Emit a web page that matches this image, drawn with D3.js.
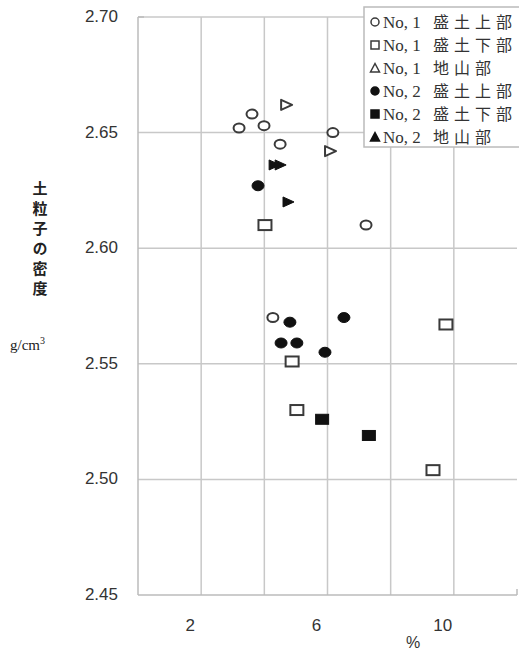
<!DOCTYPE html>
<html><head><meta charset="utf-8">
<script src="https://cdn.jsdelivr.net/npm/d3@7"></script>
<style>body{margin:0;background:#fff}svg{display:block}</style>
</head><body>
<script>
// ---- data ----
const seriesNames = ["No, 1|盛土上部","No, 1|盛土下部","No, 1|地山部","No, 2|盛土上部","No, 2|盛土下部","No, 2|地山部"];
const s1upper = [[3.61,2.658],[3.20,2.652],[3.99,2.653],[4.50,2.645],[6.17,2.650],[7.22,2.610],[4.27,2.570]];
const s1lower = [[4.02,2.610],[4.88,2.551],[5.03,2.530],[9.75,2.567],[9.34,2.504]];
const s1ground = [[4.69,2.662],[6.08,2.642]];
const s2upper = [[3.80,2.627],[4.81,2.568],[6.52,2.570],[4.53,2.559],[5.03,2.559],[5.92,2.555]];
const s2lower = [[5.83,2.526],[7.31,2.519]];
const s2ground = [[4.31,2.636],[4.50,2.636],[4.75,2.620]];
const xGrid = [2,4,6,8,10];
const xTickLabels = [2,6,10];
const yTicks = [2.45,2.50,2.55,2.60,2.65,2.70];
const yTickLabels = ["2.45","2.50","2.55","2.60","2.65","2.70"];
const yTitle = "土粒子の密度";

const W=519,H=653;
const svg=d3.select("body").append("svg").attr("width",W).attr("height",H);
const x=d3.scaleLinear().domain([0,12]).range([138,517]);
const y=d3.scaleLinear().domain([2.45,2.70]).range([595,17]);
const gridC="#c8c8c8";

// grid
svg.append("g").selectAll("line").data(yTicks.slice(1)).join("line")
  .attr("x1",x(0)).attr("x2",x(12)).attr("y1",d=>y(d)).attr("y2",d=>y(d))
  .attr("stroke",gridC).attr("stroke-width",1.5);
svg.append("g").selectAll("line").data(xGrid).join("line")
  .attr("x1",d=>x(d)).attr("x2",d=>x(d)).attr("y1",y(2.70)).attr("y2",y(2.45))
  .attr("stroke",gridC).attr("stroke-width",1.5);
// axes
svg.append("line").attr("x1",x(0)).attr("x2",x(0)).attr("y1",y(2.70)).attr("y2",y(2.45)).attr("stroke","#bbb").attr("stroke-width",1.5);
svg.append("line").attr("x1",x(0)).attr("x2",x(12)).attr("y1",y(2.45)).attr("y2",y(2.45)).attr("stroke","#bbb").attr("stroke-width",1.5);
svg.append("line").attr("x1",x(0)).attr("x2",x(0)+6).attr("y1",y(2.70)).attr("y2",y(2.70)).attr("stroke","#bbb").attr("stroke-width",1.5);
svg.append("line").attr("x1",x(12)).attr("x2",x(12)).attr("y1",y(2.45)-6).attr("y2",y(2.45)).attr("stroke","#bbb").attr("stroke-width",1.5);

// tick labels
svg.append("g").selectAll("text").data(yTicks).join("text")
  .attr("x",118).attr("y",d=>y(d)+5).attr("text-anchor","end")
  .attr("font-family","Liberation Sans, Arial, sans-serif").attr("font-size",17).attr("fill","#333")
  .text((d,i)=>yTickLabels[i]);
svg.append("g").selectAll("text").data(xTickLabels).join("text")
  .attr("x",d=>x(d)-11).attr("y",631).attr("text-anchor","middle")
  .attr("font-family","Liberation Sans, Arial, sans-serif").attr("font-size",17).attr("fill","#333")
  .text(d=>d);
svg.append("text").attr("x",413).attr("y",648).attr("text-anchor","middle")
  .attr("font-family","Liberation Sans, Arial, sans-serif").attr("font-size",16).attr("fill","#333").text("%");

// y title (vertical)
svg.append("text").attr("x",40).attr("y",181)
  .style("writing-mode","vertical-rl").style("text-orientation","upright")
  .attr("font-family","Noto Sans CJK JP, sans-serif").attr("font-size",15).attr("font-weight","bold")
  .attr("letter-spacing",5).attr("fill","#222").text(yTitle);
const u=svg.append("text").attr("x",10).attr("y",350)
  .attr("font-family","Liberation Serif, serif").attr("font-size",15).attr("fill","#222");
u.append("tspan").text("g/cm");
u.append("tspan").attr("font-size",10).attr("dy",-6).text("3");

// markers
const ink="#3a3a3a";
function drawSeries(data,shape,filled){
  const g=svg.append("g");
  const fill=filled?"#111":"#fff", stroke=filled?"#111":ink;
  data.forEach(([vx,vy])=>{
    const cx=x(vx), cy=y(vy);
    if(shape==="circle"){
      g.append("ellipse").attr("cx",cx).attr("cy",cy).attr("rx",filled?6:5.5).attr("ry",filled?5:4.5)
        .attr("fill",fill).attr("stroke",stroke).attr("stroke-width",filled?1:2);
    } else if(shape==="square"){
      g.append("rect").attr("x",cx-6.5).attr("y",cy-5).attr("width",13).attr("height",10)
        .attr("fill",fill).attr("stroke",stroke).attr("stroke-width",filled?1:2);
    } else {
      g.append("path").attr("d",`M${cx-5},${cy-5}L${cx+6},${cy}L${cx-5},${cy+5}Z`)
        .attr("fill",fill).attr("stroke",stroke).attr("stroke-width",filled?1:2).attr("stroke-linejoin","round");
    }
  });
}
drawSeries(s1upper,"circle",false);
drawSeries(s1lower,"square",false);
drawSeries(s1ground,"tri",false);
drawSeries(s2upper,"circle",true);
drawSeries(s2lower,"square",true);
drawSeries(s2ground,"tri",true);

// legend
const lg=svg.append("g");
lg.append("rect").attr("x",364).attr("y",7).attr("width",170).attr("height",140)
  .attr("fill","#fff").attr("stroke","#bbb").attr("stroke-width",1.5);
const shapes=["circle","square","tri","circle","square","tri"];
seriesNames.forEach((nm,i)=>{
  const cy=22+i*23, cx=375, filled=i>=3;
  const fill=filled?"#111":"#fff", stroke=filled?"#111":ink;
  if(shapes[i]==="circle") lg.append("circle").attr("cx",cx).attr("cy",cy).attr("r",4).attr("fill",fill).attr("stroke",stroke).attr("stroke-width",1.5);
  else if(shapes[i]==="square") lg.append("rect").attr("x",cx-4).attr("y",cy-4).attr("width",8).attr("height",8).attr("fill",fill).attr("stroke",stroke).attr("stroke-width",1.5);
  else lg.append("path").attr("d",`M${cx},${cy-4.5}L${cx+4.5},${cy+4}L${cx-4.5},${cy+4}Z`).attr("fill",fill).attr("stroke",stroke).attr("stroke-width",1.5);
  const [a,b]=nm.split("|");
  lg.append("text").attr("x",383).attr("y",cy+5.5).attr("font-family","Liberation Serif, serif").attr("font-size",17).attr("fill","#333").text(a);
  lg.append("text").attr("x",433).attr("y",cy+6).attr("font-family","Noto Sans CJK JP, sans-serif").attr("font-size",16).attr("letter-spacing",5).attr("fill","#333").text(b);
});
</script>
</body></html>
